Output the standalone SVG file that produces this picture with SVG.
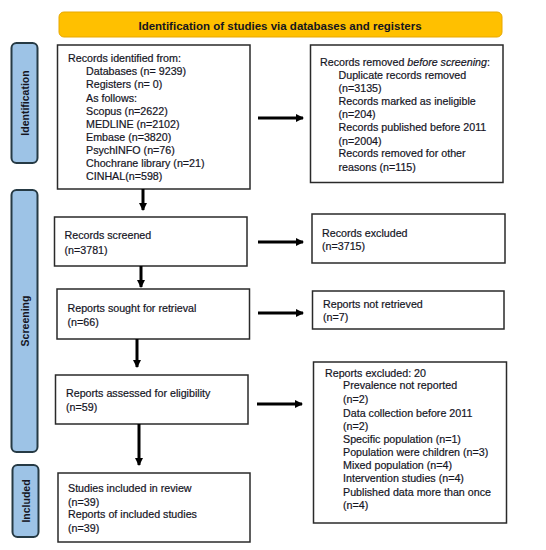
<svg xmlns="http://www.w3.org/2000/svg" width="546" height="550" viewBox="0 0 546 550">
<defs>
<style>
.box{fill:#fff;stroke:#2a2a2a;stroke-width:1.5}
.side{fill:#9DC3E6;stroke:#263a44;stroke-width:2}
.t{font-family:"Liberation Sans",Arial,sans-serif;font-size:10.7px;fill:#15151f;stroke:#15151f;stroke-width:0.2}
.sl{font-family:"Liberation Sans",Arial,sans-serif;font-size:10.5px;font-weight:bold;fill:#15151f;text-anchor:middle}
.arr{stroke:#000;stroke-width:3;fill:none;marker-end:url(#ah)}
</style>
<marker id="ah" markerUnits="userSpaceOnUse" markerWidth="8" markerHeight="8" refX="7" refY="4" orient="auto">
<path d="M0,0 L8,4 L0,8 Z" fill="#000"/>
</marker>
</defs>
<rect width="546" height="550" fill="#fff"/>

<g id="banner">
<rect x="59" y="12" width="443" height="25" rx="5" fill="#FFC000" stroke="#E8A800" stroke-width="1"/>
<text x="280" y="29.5" font-family="Liberation Sans,Arial,sans-serif" font-size="11.5" font-weight="bold" fill="#15151f" text-anchor="middle">Identification of studies via databases and registers</text>
</g>

<g id="side-identification">
<rect class="side" x="11.5" y="43" width="26" height="120" rx="5"/>
<text class="sl" transform="translate(28.5,103) rotate(-90)">Identification</text>
</g>
<g id="side-screening">
<rect class="side" x="11.5" y="190" width="26" height="262" rx="5"/>
<text class="sl" transform="translate(28.5,321) rotate(-90)">Screening</text>
</g>
<g id="side-included">
<rect class="side" x="12.5" y="465" width="26" height="72" rx="5"/>
<text class="sl" transform="translate(29.5,501) rotate(-90)">Included</text>
</g>

<g id="records-identified">
<rect class="box" x="57.5" y="45" width="192.5" height="144"/>
<text class="t" x="68" y="62">Records identified from:</text>
<text class="t" x="86" y="75.2">Databases (n= 9239)</text>
<text class="t" x="86" y="88.3">Registers (n= 0)</text>
<text class="t" x="86" y="101.5">As follows:</text>
<text class="t" x="86" y="114.6">Scopus (n=2622)</text>
<text class="t" x="86" y="127.8">MEDLINE (n=2102)</text>
<text class="t" x="86" y="140.9">Embase (n=3820)</text>
<text class="t" x="86" y="154">PsychINFO (n=76)</text>
<text class="t" x="86" y="167.2">Chochrane library (n=21)</text>
<text class="t" x="86" y="180.3">CINHAL(n=598)</text>
</g>

<g id="records-removed">
<rect class="box" x="310.5" y="45" width="192.5" height="137.5"/>
<text class="t" x="320" y="65.5">Records removed <tspan font-style="italic">before screening</tspan>:</text>
<text class="t" x="338.5" y="78.8">Duplicate records removed</text>
<text class="t" x="338.5" y="92.1">(n=3135)</text>
<text class="t" x="338.5" y="105">Records marked as ineligible</text>
<text class="t" x="338.5" y="118.2">(n=204)</text>
<text class="t" x="338.5" y="131.2">Records published before 2011</text>
<text class="t" x="338.5" y="144.5">(n=2004)</text>
<text class="t" x="338.5" y="157.2">Records removed for other</text>
<text class="t" x="338.5" y="170.5">reasons (n=115)</text>
</g>

<g id="records-screened">
<rect class="box" x="54.5" y="217" width="192.5" height="49"/>
<text class="t" x="64.5" y="238.8">Records screened</text>
<text class="t" x="64.5" y="253.5">(n=3781)</text>
</g>

<g id="records-excluded">
<rect class="box" x="312" y="214" width="193" height="49"/>
<text class="t" x="322" y="236.8">Records excluded</text>
<text class="t" x="322" y="250">(n=3715)</text>
</g>

<g id="reports-sought">
<rect class="box" x="57" y="289" width="192.5" height="50"/>
<text class="t" x="67.5" y="311.8">Reports sought for retrieval</text>
<text class="t" x="67.5" y="325.5">(n=66)</text>
</g>

<g id="reports-not-retrieved">
<rect class="box" x="312.5" y="291" width="191.5" height="38"/>
<text class="t" x="323" y="307.8">Reports not retrieved</text>
<text class="t" x="323" y="321">(n=7)</text>
</g>

<g id="reports-assessed">
<rect class="box" x="55.5" y="375" width="192.5" height="49"/>
<text class="t" x="66" y="397">Reports assessed for eligibility</text>
<text class="t" x="66" y="411">(n=59)</text>
</g>

<g id="reports-excluded">
<rect class="box" x="313.5" y="362" width="193" height="161"/>
<text class="t" x="325" y="376.8">Reports excluded: 20</text>
<text class="t" x="343" y="389.2">Prevalence not reported</text>
<text class="t" x="343" y="403">(n=2)</text>
<text class="t" x="343" y="416.8">Data collection before 2011</text>
<text class="t" x="343" y="430">(n=2)</text>
<text class="t" x="343" y="443">Specific population (n=1)</text>
<text class="t" x="343" y="456">Population were children (n=3)</text>
<text class="t" x="343" y="469">Mixed population (n=4)</text>
<text class="t" x="343" y="482">Intervention studies (n=4)</text>
<text class="t" x="343" y="495.5">Published data more than once</text>
<text class="t" x="343" y="508.8">(n=4)</text>
</g>

<g id="studies-included">
<rect class="box" x="58" y="473" width="192" height="69"/>
<text class="t" x="68" y="491.8">Studies included in review</text>
<text class="t" x="68" y="505.5">(n=39)</text>
<text class="t" x="68" y="518.3">Reports of included studies</text>
<text class="t" x="68" y="531.8">(n=39)</text>
</g>

<g id="connectors">
<line class="arr" x1="258" y1="118" x2="303" y2="118"/>
<line class="arr" x1="258" y1="242" x2="303" y2="242"/>
<line class="arr" x1="258" y1="313" x2="303" y2="313"/>
<line class="arr" x1="257" y1="404" x2="302" y2="404"/>
<line class="arr" x1="143" y1="189" x2="143" y2="210"/>
<line class="arr" x1="141" y1="266" x2="141" y2="287"/>
<line class="arr" x1="137" y1="339" x2="137" y2="367"/>
<line class="arr" x1="139" y1="424" x2="139" y2="465"/>
</g>
</svg>
